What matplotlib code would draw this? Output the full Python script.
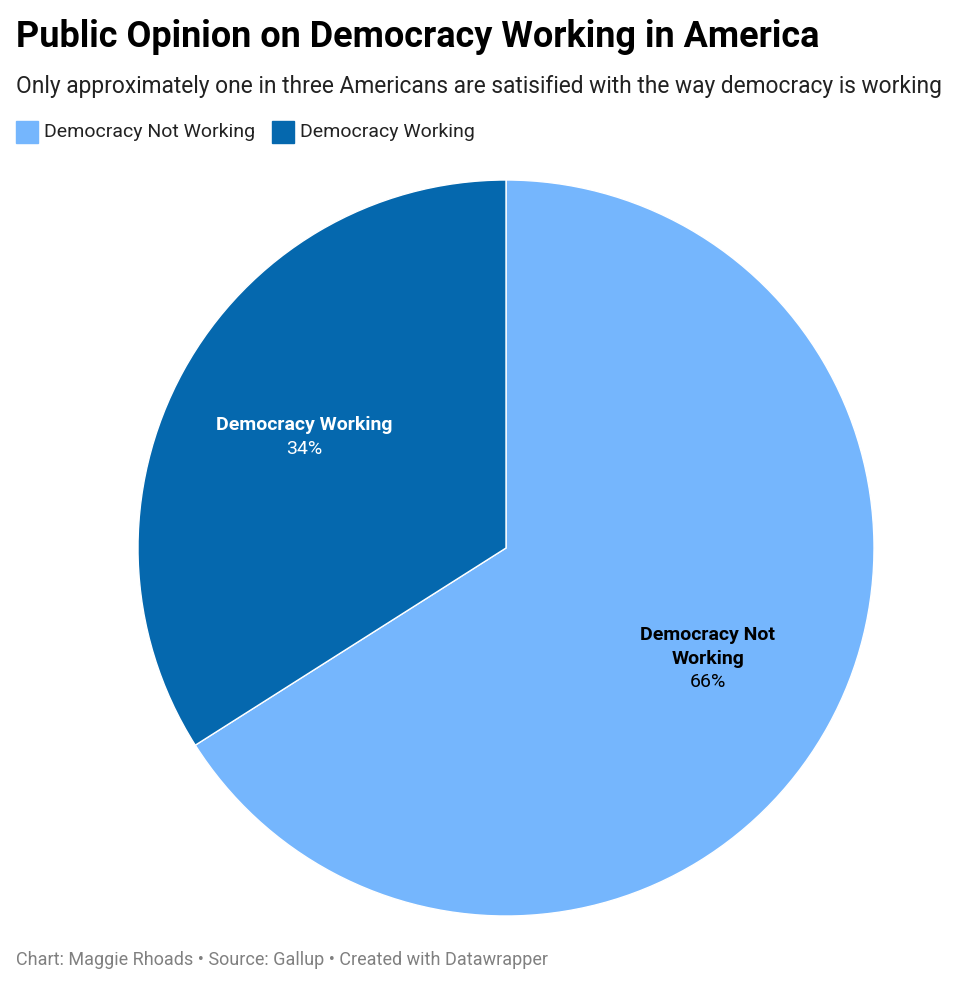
import numpy as np
import matplotlib.pyplot as plt
from matplotlib.patches import Rectangle

plt.rcParams['font.family'] = ['Roboto', 'DejaVu Sans']

# Data
categories = ['Democracy Not Working', 'Democracy Working']
label_lines = [['Democracy Not', 'Working'], ['Democracy Working']]
shares = [66, 34]
colors = ['#75b6fd', '#0568ae']
text_colors = ['#000000', '#ffffff']

title = 'Public Opinion on Democracy Working in America'
subtitle = 'Only approximately one in three Americans are satisified with the way democracy is working'
footer = 'Chart: Maggie Rhoads \u2022 Source: Gallup \u2022 Created with Datawrapper'

W, H = 980, 983
fig = plt.figure(figsize=(W / 100, H / 100), dpi=100)
fig.patch.set_facecolor('white')

# pie axes placed by pixel geometry
cx, cy, r = 506, 548, 368
ax = fig.add_axes([(cx - r) / W, 1 - (cy + r) / H, 2 * r / W, 2 * r / H])
wedges, _ = ax.pie(shares, colors=colors, startangle=90, counterclock=False,
                   radius=1.0, wedgeprops=dict(edgecolor='white', linewidth=1))
ax.set_xlim(-1, 1)
ax.set_ylim(-1, 1)
ax.set_aspect('equal')
ax.axis('off')

step = 23.5 / r  # line spacing in data units
for w, lines, val, tc in zip(wedges, label_lines, shares, text_colors):
    ang = np.deg2rad((w.theta1 + w.theta2) / 2)
    x, y = 0.625 * np.cos(ang), 0.625 * np.sin(ang)
    n = len(lines) + 1
    top = y + step * (n - 1) / 2
    for i, ln in enumerate(lines):
        ax.text(x, top - i * step, ln, ha='center', va='center', fontsize=14,
                fontweight='bold', color=tc)
    ax.text(x, top - len(lines) * step, f'{val}%', ha='center', va='center',
            fontsize=14, color=tc)

# header
fig.text(16 / W, 1 - 37 / H, title, fontsize=25.9, fontweight='bold',
         color='#000000', ha='left', va='center')
fig.text(16 / W, 1 - 87 / H, subtitle, fontsize=16.4, color='#222222',
         ha='left', va='center')

# legend
lx = 16
for cat, col in zip(categories, colors):
    fig.patches.append(Rectangle((lx / W, 1 - 143 / H), 22 / W, 22 / H,
                                 transform=fig.transFigure, color=col))
    t = fig.text((lx + 28) / W, 1 - 132 / H, cat, fontsize=14,
                 color='#222222', ha='left', va='center')
    fig.canvas.draw()
    bb = t.get_window_extent()
    lx = bb.x1 + 17

fig.text(16 / W, 1 - 960 / H, footer, fontsize=13, color='#808080',
         ha='left', va='center')

plt.savefig('out.png', dpi=100)
